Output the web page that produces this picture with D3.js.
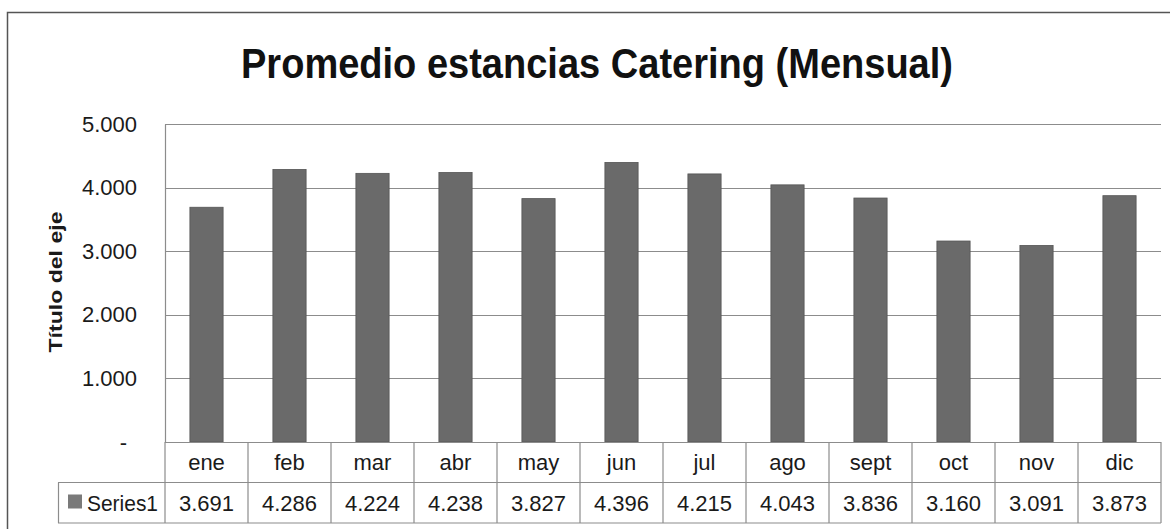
<!DOCTYPE html>
<html>
<head>
<meta charset="utf-8">
<script src="https://cdnjs.cloudflare.com/ajax/libs/d3/7.8.5/d3.min.js"></script>
<style>
  body { margin: 0; background: #fff; }
  svg text { font-family: "Liberation Sans", Arial, sans-serif; fill: #1a1a1a; }
</style>
</head>
<body>
<svg id="chart" width="1170" height="529"></svg>
<script>
// data
const months = ["ene", "feb", "mar", "abr", "may", "jun", "jul", "ago", "sept", "oct", "nov", "dic"]
const values = [3691, 4286, 4224, 4238, 3827, 4396, 4215, 4043, 3836, 3160, 3091, 3873]
const yTicks = [0, 1000, 2000, 3000, 4000, 5000]
const seriesName = "Series1"

const svg = d3.select("#chart")

// formatting like the spanish excel: thousands with a dot, zero as "-"
const fmt = v => v === 0 ? "-" : d3.format(",")(v).replace(/,/g, ".")

const plotLeft = 165, plotRight = 1161, plotTop = 124, plotBottom = 442
const rowH = 40.5

const x = d3.scaleBand().domain(months).range([plotLeft, plotRight]).paddingInner(0.6).paddingOuter(0.3)
const y = d3.scaleLinear().domain([0, 5000]).range([plotBottom, plotTop])

// outer chart frame (continues past the right and bottom edge)
svg.append("path")
  .attr("d", `M7.5,529 V12.5 H1170`)
  .attr("fill", "none")
  .attr("stroke", "#555")
  .attr("stroke-width", 1.5)

// title
svg.append("text")
  .attr("x", 597).attr("y", 78)
  .attr("text-anchor", "middle")
  .attr("font-size", 42)
  .attr("font-weight", "bold")
  .attr("textLength", 712)
  .attr("lengthAdjust", "spacingAndGlyphs")
  .style("fill", "#111")
  .text("Promedio estancias Catering (Mensual)")

// gridlines
svg.append("g").selectAll("line")
  .data(yTicks.filter(d => d > 0))
  .join("line")
  .attr("x1", plotLeft).attr("x2", plotRight)
  .attr("y1", d => Math.round(y(d)) + 0.5).attr("y2", d => Math.round(y(d)) + 0.5)
  .attr("stroke", "#8c8c8c")
  .attr("stroke-width", 1.2)

// y axis
const yAxis = svg.append("g")
  .attr("transform", `translate(${plotLeft},0)`)
  .call(d3.axisLeft(y).tickValues(yTicks).tickFormat(fmt).tickSize(0).tickPadding(28))
yAxis.select(".domain").attr("stroke", "#8c8c8c").attr("stroke-width", 1.2)
yAxis.selectAll("text")
  .attr("font-size", 22)
  .style("font-family", "Liberation Sans, Arial, sans-serif")
  .style("fill", "#1a1a1a")
// the "-" of the zero tick sits a bit to the left, like excel's accounting format
yAxis.selectAll(".tick").filter(d => d === 0).select("text").attr("dx", -10)

// axis title
svg.append("text")
  .attr("transform", `translate(62,282) rotate(-90)`)
  .attr("text-anchor", "middle")
  .attr("font-size", 18)
  .attr("font-weight", "bold")
  .attr("textLength", 141)
  .attr("lengthAdjust", "spacingAndGlyphs")
  .text("Título del eje")

// bars
svg.append("g").selectAll("rect")
  .data(values)
  .join("rect")
  .attr("x", (d, i) => x(months[i]))
  .attr("y", d => y(d))
  .attr("width", x.bandwidth())
  .attr("height", d => plotBottom - y(d))
  .attr("fill", "#6a6a6a")
  .attr("stroke", "#555")
  .attr("stroke-width", 0.8)

// data table
const table = svg.append("g")
const colW = (plotRight - plotLeft) / months.length
const border = "#8c8c8c"

table.append("line").attr("x1", plotLeft).attr("x2", plotRight).attr("y1", plotBottom + 0.5).attr("y2", plotBottom + 0.5)
  .attr("stroke", border).attr("stroke-width", 1.2)
table.append("line").attr("x1", 58).attr("x2", plotRight).attr("y1", plotBottom + rowH).attr("y2", plotBottom + rowH)
  .attr("stroke", border).attr("stroke-width", 1.2)
table.append("line").attr("x1", 58).attr("x2", plotRight).attr("y1", plotBottom + 2 * rowH).attr("y2", plotBottom + 2 * rowH)
  .attr("stroke", border).attr("stroke-width", 1.2)
table.append("line").attr("x1", 58.5).attr("x2", 58.5).attr("y1", plotBottom + rowH).attr("y2", plotBottom + 2 * rowH)
  .attr("stroke", border).attr("stroke-width", 1.2)

table.selectAll("line.col")
  .data(d3.range(months.length + 1))
  .join("line")
  .attr("class", "col")
  .attr("x1", i => plotLeft + i * colW).attr("x2", i => plotLeft + i * colW)
  .attr("y1", plotBottom).attr("y2", plotBottom + 2 * rowH)
  .attr("stroke", border).attr("stroke-width", 1.2)

table.selectAll("text.month")
  .data(months)
  .join("text")
  .attr("class", "month")
  .attr("x", d => x(d) + x.bandwidth() / 2)
  .attr("y", plotBottom + 28)
  .attr("text-anchor", "middle")
  .attr("font-size", 22)
  .text(d => d)

table.selectAll("text.val")
  .data(values)
  .join("text")
  .attr("class", "val")
  .attr("x", (d, i) => x(months[i]) + x.bandwidth() / 2)
  .attr("y", plotBottom + rowH + 28)
  .attr("text-anchor", "middle")
  .attr("font-size", 22)
  .text(d => fmt(d))

// legend key in the table
table.append("rect")
  .attr("x", 68).attr("y", plotBottom + rowH + 12)
  .attr("width", 14).attr("height", 14)
  .attr("fill", "#7a7a7a")
table.append("text")
  .attr("x", 87).attr("y", plotBottom + rowH + 28)
  .attr("font-size", 22)
  .attr("textLength", 71)
  .attr("lengthAdjust", "spacingAndGlyphs")
  .text(seriesName)
</script>
</body>
</html>
